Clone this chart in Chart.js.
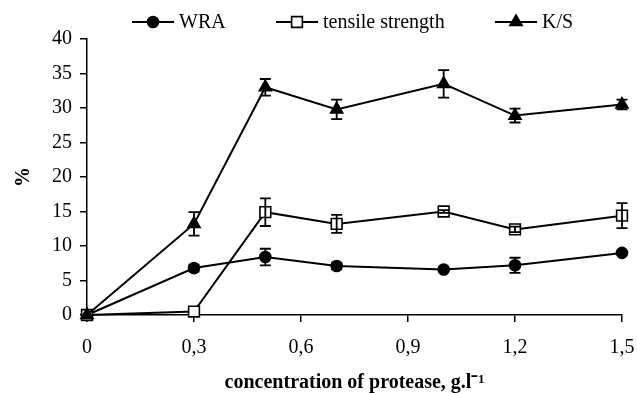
<!DOCTYPE html>
<html>
<head>
<meta charset="utf-8">
<script src="https://cdn.jsdelivr.net/npm/chart.js@4.4.1/dist/chart.umd.min.js"></script>
<style>
  html, body { margin: 0; padding: 0; background: #fff; }
  #wrap { width: 637px; height: 393px; }
</style>
</head>
<body>
<div id="wrap"><canvas id="c" width="637" height="393"></canvas></div>
<script>
// ---- data ----
const concentrations = [0, 0.3, 0.5, 0.7, 1.0, 1.2, 1.5];
const wraValues      = [0, 6.8, 8.4, 7.1, 6.6, 7.2, 9.0];
const wraErrors      = [0, 0.5, 1.2, 0.5, 0.2, 1.1, 0.2];
const tensileValues  = [0, 0.5, 14.9, 13.2, 15.0, 12.4, 14.4];
const tensileErrors  = [0, 0, 2.0, 1.3, 0.2, 0.4, 1.8];
const ksValues       = [0, 13.2, 33.0, 29.8, 33.5, 28.9, 30.5];
const ksErrors       = [0, 1.7, 1.2, 1.4, 2.0, 1.0, 0.7];
const seriesLabels   = ['WRA', 'tensile strength', 'K/S'];
const xTicks         = [0, 0.3, 0.6, 0.9, 1.2, 1.5];
const yTicks         = [0, 5, 10, 15, 20, 25, 30, 35, 40];

const FONT = "'Liberation Serif', 'Times New Roman', serif";

function pts(vals) { return concentrations.map((x, i) => ({x: x, y: vals[i]})); }

const styles = [
  {pointStyle: 'circle', radius: 5.5, fill: '#000'},
  {pointStyle: 'rect', radius: 7.6, fill: '#fff'},
  {pointStyle: 'triangle', radius: 7, fill: '#000'}
];
const allValues = [wraValues, tensileValues, ksValues];
const allErrors = [wraErrors, tensileErrors, ksErrors];

const datasets = allValues.map((vals, i) => ({
  label: seriesLabels[i],
  data: pts(vals),
  errors: allErrors[i],
  borderColor: '#000',
  borderWidth: 2,
  backgroundColor: styles[i].fill,
  pointStyle: styles[i].pointStyle,
  pointRadius: styles[i].radius,
  pointHoverRadius: styles[i].radius,
  pointBackgroundColor: styles[i].fill,
  pointBorderColor: '#000',
  pointBorderWidth: 1.6,
  tension: 0,
  clip: false,
  order: 3 - i
}));

const errorBars = {
  id: 'errorBars',
  afterDatasetsDraw(chart) {
    const ctx = chart.ctx;
    const xs = chart.scales.x, ys = chart.scales.y;
    ctx.save();
    ctx.strokeStyle = '#000';
    ctx.lineWidth = 1.8;
    chart.data.datasets.forEach(ds => {
      ds.data.forEach((p, j) => {
        const e = ds.errors[j];
        if (!e) return;
        const px = xs.getPixelForValue(p.x);
        const top = ys.getPixelForValue(p.y + e);
        const bot = ys.getPixelForValue(p.y - e);
        const cap = 5.5;
        ctx.beginPath();
        ctx.moveTo(px, top); ctx.lineTo(px, bot);
        ctx.moveTo(px - cap, top); ctx.lineTo(px + cap, top);
        ctx.moveTo(px - cap, bot); ctx.lineTo(px + cap, bot);
        ctx.stroke();
      });
    });
    ctx.restore();
  }
};

const customLegend = {
  id: 'customLegend',
  afterDraw(chart) {
    const ctx = chart.ctx;
    const starts = [132, 276, 495];
    const lineLen = 42;
    const cy = 22;
    ctx.save();
    ctx.font = '20px ' + FONT;
    ctx.textBaseline = 'middle';
    ctx.fillStyle = '#000';
    chart.data.datasets.forEach((ds, i) => {
      const x0 = starts[i];
      ctx.strokeStyle = '#000';
      ctx.lineWidth = 2;
      ctx.beginPath();
      ctx.moveTo(x0, cy); ctx.lineTo(x0 + lineLen, cy);
      ctx.stroke();
      ctx.fillStyle = ds.pointBackgroundColor;
      ctx.lineWidth = 1.6;
      Chart.helpers.drawPoint(ctx, {
        pointStyle: ds.pointStyle, radius: ds.pointRadius, borderWidth: 1.6, rotation: 0
      }, x0 + lineLen / 2, cy);
      ctx.fillStyle = '#000';
      ctx.fillText(ds.label, x0 + lineLen + 5, cy + 1);
    });
    ctx.restore();
  }
};

new Chart(document.getElementById('c'), {
  type: 'line',
  data: { datasets: datasets },
  options: {
    responsive: false,
    animation: false,
    layout: { autoPadding: false, padding: { top: 39, right: 15, left: 0, bottom: 0 } },
    plugins: { legend: { display: false }, tooltip: { enabled: false } },
    elements: { point: { borderColor: '#000' } },
    scales: {
      x: {
        type: 'linear',
        min: 0, max: 1.5,
        afterBuildTicks(scale) { scale.ticks = xTicks.map(v => ({value: v})); },
        afterFit(scale) { scale.height = 78; scale.paddingLeft = 0; scale.paddingRight = 0; },
        ticks: {
          color: '#000',
          font: { family: FONT, size: 20 },
          padding: 14,
          maxRotation: 0,
          callback: v => (v === 0 ? '0' : v.toFixed(1).replace('.', ','))
        },
        grid: { display: true, drawOnChartArea: false, drawTicks: true, tickLength: 7, color: '#000', lineWidth: 1.5 },
        border: { display: true, color: '#000', width: 1.5 },
        title: {
          display: true,
          text: 'concentration of protease, g.l\u207B\u00B9',
          color: '#000',
          font: { family: FONT, size: 20, weight: 'bold' },
          padding: { top: 0, bottom: -2 }
        }
      },
      y: {
        min: 0, max: 40,
        afterBuildTicks(scale) { scale.ticks = yTicks.map(v => ({value: v})); },
        afterFit(scale) { scale.width = 87; scale.paddingTop = 0; scale.paddingBottom = 0; },
        ticks: {
          color: '#000',
          font: { family: FONT, size: 20 },
          padding: 8
        },
        grid: { display: true, drawOnChartArea: false, drawTicks: true, tickLength: 7, color: '#000', lineWidth: 1.5 },
        border: { display: true, color: '#000', width: 1.5 },
        title: {
          display: true,
          text: '%',
          color: '#000',
          font: { family: FONT, size: 20, weight: 'bold' },
          padding: { top: 12, bottom: 0 }
        }
      }
    }
  },
  plugins: [errorBars, customLegend]
});
</script>
</body>
</html>
